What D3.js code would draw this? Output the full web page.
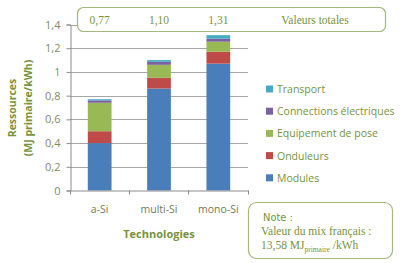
<!DOCTYPE html>
<html>
<head>
<meta charset="utf-8">
<script src="https://cdn.jsdelivr.net/npm/d3@7"></script>
<style>
body { margin: 0; background: #fff; }
svg { display: block; }
</style>
</head>
<body>
<div id="chart"></div>
<script>
// data
const technologies = ['a-Si', 'multi-Si', 'mono-Si'];
const series = ['Modules', 'Onduleurs', 'Equipement de pose', 'Connections électriques', 'Transport'];
const modules = [0.40, 0.86, 1.07];
const onduleurs = [0.10, 0.09, 0.10];
const equipement = [0.24, 0.11, 0.085];
const connections = [0.02, 0.025, 0.025];
const transport = [0.01, 0.015, 0.03];
const totals = ['0,77', '1,10', '1,31'];
const yTicks = [0, 0.2, 0.4, 0.6, 0.8, 1, 1.2, 1.4];

const colors = ['#4a7ebb', '#be4b48', '#98b954', '#7d60a0', '#46aac5'];
const green = '#77933c';

const width = 400, height = 263;
const svg = d3.select('#chart').append('svg')
    .attr('width', width)
    .attr('height', height);

const x = d3.scaleBand().domain(technologies).range([70, 248]).paddingInner(0.6).paddingOuter(0.3);
const y = d3.scaleLinear().domain([0, 1.4]).range([190.5, 24.5]);

// build rows for the stack
const rows = technologies.map((t, i) => ({
    tech: t,
    'Modules': modules[i],
    'Onduleurs': onduleurs[i],
    'Equipement de pose': equipement[i],
    'Connections électriques': connections[i],
    'Transport': transport[i]
}));
const stacked = d3.stack().keys(series)(rows);

// grid lines
svg.append('g').selectAll('line')
    .data(yTicks.filter(d => d > 0))
    .join('line')
    .attr('x1', 70).attr('x2', 248)
    .attr('y1', d => Math.round(y(d)) + 0.5).attr('y2', d => Math.round(y(d)) + 0.5)
    .attr('stroke', '#a6a6a6').attr('stroke-width', 1);

// bars
svg.append('g').selectAll('g')
    .data(stacked)
    .join('g')
    .attr('fill', (d, i) => colors[i])
    .selectAll('rect')
    .data(d => d)
    .join('rect')
    .attr('x', d => x(d.data.tech))
    .attr('width', x.bandwidth())
    .attr('y', d => y(d[1]))
    .attr('height', d => y(d[0]) - y(d[1]));

// y axis
const yAxis = svg.append('g')
    .attr('transform', 'translate(70.5,0)')
    .call(d3.axisLeft(y).tickValues(yTicks).tickSize(4)
        .tickFormat(d => d3.format('.1f')(d).replace('.', ',').replace(/^(\d),0$/, '$1')));
yAxis.select('.domain').attr('stroke', '#8c8c8c');
yAxis.selectAll('.tick line').attr('stroke', '#8c8c8c');
yAxis.selectAll('.tick text')
    .attr('x', -10)
    .attr('fill', '#7f8a6a')
    .style('font', '11px "Open Sans", sans-serif');

// x axis
const xAxis = svg.append('g')
    .attr('transform', 'translate(0,190.5)')
    .call(d3.axisBottom(x).tickSize(0).tickSizeOuter(0));
xAxis.select('.domain').attr('stroke', '#8c8c8c');
xAxis.selectAll('.tick text')
    .attr('dy', '1.85em')
    .attr('fill', '#6f7c56')
    .style('font', '10.5px "Open Sans", sans-serif');
// category separators
svg.append('g').selectAll('line')
    .data([70, 129, 188, 248])
    .join('line')
    .attr('x1', d => d + 0.5).attr('x2', d => d + 0.5)
    .attr('y1', 190.5).attr('y2', 194.5)
    .attr('stroke', '#8c8c8c');

// axis titles
svg.append('text')
    .attr('x', 159).attr('y', 238)
    .attr('text-anchor', 'middle')
    .attr('fill', green)
    .style('font', 'bold 11px "Open Sans", sans-serif')
    .text('Technologies');

const yTitle = svg.append('text')
    .attr('transform', 'translate(0,108) rotate(-90)')
    .attr('text-anchor', 'middle')
    .attr('fill', green)
    .style('font', 'bold 10.5px "Open Sans", sans-serif');
yTitle.append('tspan').attr('x', 0).attr('y', 16).text('Ressources');
yTitle.append('tspan').attr('x', 0).attr('y', 32).text('(MJ primaire/kWh)');

// legend
const legend = svg.append('g').selectAll('g')
    .data(series.slice().reverse())
    .join('g')
    .attr('transform', (d, i) => `translate(266,${89 + i * 22.2})`);
legend.append('rect')
    .attr('x', 0).attr('y', -3.5).attr('width', 7).attr('height', 7)
    .attr('fill', d => colors[series.indexOf(d)]);
legend.append('text')
    .attr('x', 11).attr('y', 4)
    .attr('fill', green)
    .style('font', '10.5px "Open Sans", sans-serif')
    .text(d => d);

// totals box
svg.append('rect')
    .attr('x', 77.5).attr('y', 7.5).attr('width', 308).attr('height', 24)
    .attr('rx', 6)
    .attr('fill', '#fff').attr('stroke', '#a4b77e').attr('stroke-width', 1.2);
svg.append('g').selectAll('text')
    .data(totals)
    .join('text')
    .attr('x', (d, i) => x(technologies[i]) + x.bandwidth() / 2)
    .attr('y', 23.5)
    .attr('text-anchor', 'middle')
    .attr('fill', green)
    .style('font', '11.5px "Liberation Serif", serif')
    .text(d => d);
svg.append('text')
    .attr('x', 315).attr('y', 23.5)
    .attr('text-anchor', 'middle')
    .attr('fill', green)
    .style('font', '11.5px "Liberation Serif", serif')
    .text('Valeurs totales');

// note box
svg.append('rect')
    .attr('x', 248.5).attr('y', 202.5).attr('width', 144).attr('height', 56)
    .attr('rx', 8)
    .attr('fill', '#fff').attr('stroke', '#a4b77e').attr('stroke-width', 1.2);
svg.append('text')
    .attr('x', 263).attr('y', 221)
    .attr('fill', green)
    .style('font', '11px "DejaVu Sans Condensed", sans-serif')
    .text('Note :');
svg.append('text')
    .attr('x', 261).attr('y', 235)
    .attr('fill', green)
    .style('font', '11.5px "Liberation Serif", serif')
    .text('Valeur du mix français :');
const mix = svg.append('text')
    .attr('x', 261).attr('y', 249)
    .attr('fill', green)
    .style('font', '11.5px "Liberation Serif", serif');
mix.append('tspan').text('13,58 MJ');
mix.append('tspan').attr('dy', 2.5).style('font-size', '7.5px').text('primaire');
mix.append('tspan').attr('dy', -2.5).text(' /kWh');
</script>
</body>
</html>
